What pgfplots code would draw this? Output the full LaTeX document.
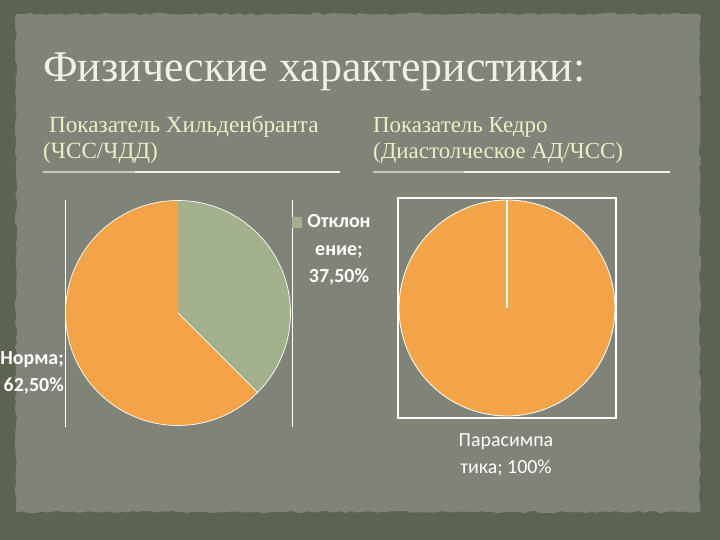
\documentclass[border=0pt]{standalone}
\usepackage{pgfplots}
\pgfplotsset{compat=1.18}
\usepackage{pgfplotstable}
\usepackage{fontspec}
\setmainfont{Liberation Serif}
\newfontfamily\calib{Carlito}
\usetikzlibrary{decorations.pathmorphing}

\definecolor{outerbg}{RGB}{92,99,80}
\definecolor{panel}{RGB}{127,131,120}
\definecolor{pieorange}{RGB}{243,164,72}
\definecolor{piegreen}{RGB}{162,176,140}
\definecolor{titlecol}{RGB}{240,240,232}
\definecolor{subcol}{RGB}{238,238,198}

% Показатель Хильденбранта
\pgfplotstableread{
slice value
1 37.5
2 62.5
}\hildtab
% Показатель Кедро
\pgfplotstableread{
slice value
1 100
}\kedrotab

\begin{document}
\begin{tikzpicture}[x=1bp,y=1bp]
\pgfmathsetseed{7}
\useasboundingbox (0,0) rectangle (720,540);
\fill[outerbg] (0,0) rectangle (720,540);
\fill[panel, decorate, decoration={random steps, segment length=5pt, amplitude=1.2pt}]
  (16,28) -- (16,526) -- (700,526) -- (700,28) -- cycle;

% title and subtitles
\node[anchor=base west, text=titlecol, font=\fontsize{44}{46}\selectfont, inner sep=0pt] at (43,458) {Физические характеристики:};
\node[anchor=base west, text=subcol, font=\fontsize{23.3}{27}\selectfont, align=left, inner sep=0pt] at (43,381)
  {\ Показатель Хильденбранта\\(ЧСС/ЧДД)};
\node[anchor=base west, text=subcol, font=\fontsize{23}{27}\selectfont, align=left, inner sep=0pt] at (373,381)
  {Показатель Кедро\\(Диастолческое АД/ЧСС)};
\draw[white!55!panel, line width=1.3pt] (43,368) -- (135,368);
\draw[white!90!panel, line width=1.3pt] (135,368) -- (340,368);
\draw[white!55!panel, line width=1.3pt] (373,368) -- (464,368);
\draw[white!90!panel, line width=1.3pt] (464,368) -- (670,368);

\pgfplotstablegetelem{0}{value}\of\hildtab
\pgfmathsetmacro\hA{90-3.6*\pgfplotsretval}
\pgfplotstablegetelem{0}{value}\of\kedrotab
\pgfmathsetmacro\kA{90-3.6*\pgfplotsretval}

% left pie
\begin{axis}[
  at={(65,113)}, anchor=south west,
  x=1bp, y=1bp,
  xmin=-113, xmax=114, ymin=-114, ymax=113,
  hide axis, clip=false]
\draw[white, line width=1pt] (rel axis cs:0,0) -- (rel axis cs:0,1);
\draw[white, line width=1pt] (rel axis cs:1,0) -- (rel axis cs:1,1);
\fill[piegreen] (axis cs:0,0) -- (axis cs:0,112.5) arc[start angle=90, end angle=\hA, radius=112.5bp] -- cycle;
\fill[pieorange] (axis cs:0,0) -- ++(\hA:112.5bp) arc[start angle=\hA, end angle=-270, radius=112.5bp] -- cycle;
\draw[white, line width=0.7pt] (axis cs:0,0) circle[radius=112.5bp];
\draw[white, line width=0.7pt] (axis cs:0,0) -- ++(\hA:112.5bp);
\end{axis}

% right pie
\begin{axis}[
  at={(398,122)}, anchor=south west,
  x=1bp, y=1bp,
  xmin=-109, xmax=109, ymin=-110, ymax=110,
  hide axis, clip=false]
\draw[white, line width=1.2pt] (rel axis cs:0,0) rectangle (rel axis cs:1,1);
\fill[pieorange] (axis cs:0,0) -- (axis cs:0,108) arc[start angle=90, end angle=\kA, radius=108bp] -- cycle;
\draw[white, line width=0.8pt] (axis cs:0,0) circle[radius=108bp];
\draw[white, line width=1.2pt] (axis cs:0,0) -- (axis cs:0,108);
\end{axis}

% data labels
\node[text=white, font=\calib\bfseries\fontsize{20}{27.5}\selectfont, align=center] at (339,290)
  {Отклон\\ение;\\37,50\%};
\fill[piegreen] (292,312) rectangle (302,323);
\node[anchor=east, text=white, font=\calib\bfseries\fontsize{20}{27.5}\selectfont, align=right, inner sep=0pt] at (64,167)
  {Норма;\\62,50\%};
\node[text=white, font=\calib\fontsize{20}{27.5}\selectfont, align=center] at (506,85)
  {Парасимпа\\тика; 100\%};
\end{tikzpicture}
\end{document}
